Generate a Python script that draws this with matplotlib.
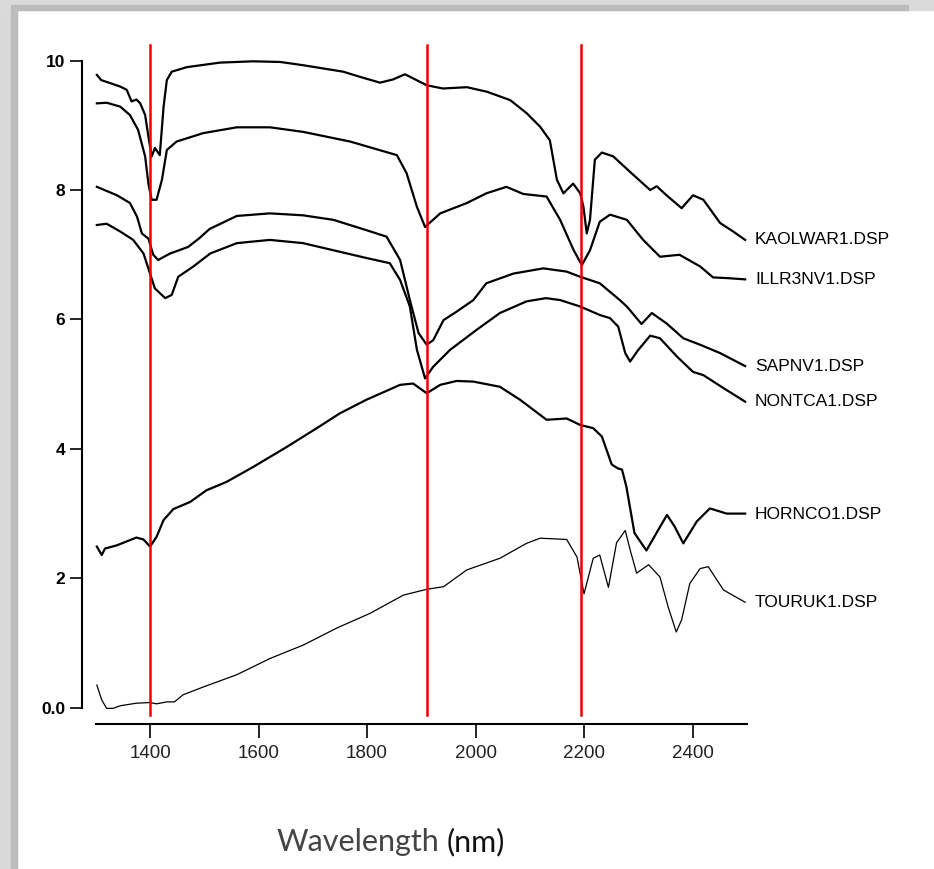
import matplotlib
matplotlib.use("Agg")
import matplotlib.pyplot as plt
from matplotlib.patches import Rectangle

# reflectance spectra (offset for display)
kaol_nm = [1302, 1310, 1345, 1357, 1366, 1375, 1382, 1391, 1397, 1403, 1409, 1418, 1425, 1431, 1440,
           1468, 1529, 1590, 1640, 1682, 1756, 1787, 1824, 1848, 1870, 1910, 1940, 1984, 2021, 2064,
           2094, 2119, 2137, 2150, 2162, 2180, 2193, 2199, 2205, 2211, 2220, 2233, 2254, 2285, 2322,
           2334, 2352, 2380, 2401, 2420, 2451, 2475, 2497]
kaol_r = [9.78, 9.70, 9.60, 9.55, 9.37, 9.40, 9.34, 9.16, 8.83, 8.52, 8.65, 8.54, 9.29, 9.70, 9.83,
          9.90, 9.97, 9.99, 9.98, 9.93, 9.83, 9.75, 9.66, 9.71, 9.79, 9.62, 9.57, 9.59, 9.52, 9.39,
          9.19, 8.98, 8.77, 8.16, 7.95, 8.10, 7.95, 7.74, 7.33, 7.54, 8.47, 8.58, 8.52, 8.28, 8.00,
          8.06, 7.92, 7.72, 7.92, 7.85, 7.49, 7.36, 7.23]

illr_nm = [1302, 1320, 1345, 1363, 1378, 1391, 1397, 1403, 1412, 1422, 1431, 1449, 1498, 1560, 1621,
           1682, 1769, 1855, 1873, 1892, 1907, 1935, 1984, 2020, 2057, 2088, 2131, 2156, 2181, 2196,
           2211, 2229, 2248, 2279, 2309, 2340, 2376, 2414, 2438, 2463, 2497]
illr_r = [9.34, 9.35, 9.29, 9.16, 8.93, 8.52, 8.10, 7.85, 7.85, 8.16, 8.62, 8.75, 8.88, 8.97, 8.97,
          8.90, 8.75, 8.54, 8.26, 7.74, 7.43, 7.64, 7.80, 7.95, 8.05, 7.94, 7.90, 7.54, 7.07, 6.84,
          7.07, 7.51, 7.62, 7.54, 7.23, 6.97, 7.00, 6.82, 6.65, 6.64, 6.62]

sapn_nm = [1302, 1339, 1363, 1376, 1385, 1397, 1406, 1415, 1437, 1470, 1490, 1510, 1540, 1560, 1621,
           1682, 1738, 1799, 1836, 1861, 1879, 1895, 1910, 1922, 1941, 1965, 1996, 2020, 2070, 2125,
           2168, 2193, 2229, 2266, 2279, 2306, 2325, 2352, 2383, 2414, 2451, 2497]
sapn_r = [8.05, 7.92, 7.80, 7.59, 7.33, 7.25, 7.00, 6.92, 7.02, 7.12, 7.25, 7.40, 7.52, 7.60, 7.64,
          7.61, 7.54, 7.38, 7.28, 6.92, 6.30, 5.79, 5.61, 5.68, 5.99, 6.12, 6.30, 6.56, 6.71, 6.79,
          6.74, 6.66, 6.56, 6.30, 6.20, 5.93, 6.10, 5.94, 5.71, 5.61, 5.48, 5.28]

nont_nm = [1302, 1320, 1345, 1369, 1388, 1400, 1409, 1428, 1440, 1452, 1480, 1511, 1560, 1621, 1682,
           1738, 1799, 1842, 1861, 1879, 1892, 1907, 1922, 1953, 2002, 2045, 2094, 2130, 2156, 2193,
           2229, 2248, 2263, 2276, 2285, 2300, 2322, 2340, 2371, 2401, 2420, 2457, 2497]
nont_r = [7.46, 7.48, 7.36, 7.23, 7.02, 6.71, 6.48, 6.33, 6.38, 6.66, 6.82, 7.02, 7.18, 7.23, 7.18,
          7.07, 6.95, 6.87, 6.61, 6.20, 5.53, 5.09, 5.27, 5.53, 5.84, 6.10, 6.28, 6.33, 6.30, 6.20,
          6.07, 6.02, 5.89, 5.48, 5.35, 5.53, 5.75, 5.71, 5.43, 5.19, 5.14, 4.94, 4.73]

horn_nm = [1302, 1311, 1317, 1339, 1375, 1388, 1400, 1412, 1425, 1443, 1474, 1504, 1541, 1590, 1652,
           1713, 1750, 1799, 1861, 1885, 1910, 1935, 1965, 1996, 2045, 2082, 2131, 2168, 2193, 2217,
           2233, 2251, 2262, 2270, 2278, 2293, 2315, 2337, 2353, 2367, 2383, 2408, 2432, 2463, 2497]
horn_r = [2.49, 2.36, 2.46, 2.51, 2.63, 2.60, 2.49, 2.64, 2.90, 3.07, 3.18, 3.36, 3.49, 3.72, 4.03,
          4.35, 4.55, 4.76, 4.99, 5.01, 4.86, 4.99, 5.05, 5.04, 4.96, 4.76, 4.45, 4.47, 4.37, 4.32,
          4.19, 3.76, 3.70, 3.68, 3.42, 2.70, 2.43, 2.75, 2.98, 2.80, 2.54, 2.88, 3.08, 3.00, 3.00]

tour_nm = [1302, 1311, 1320, 1332, 1345, 1375, 1400, 1412, 1431, 1445, 1461, 1498, 1560, 1621, 1683,
           1744, 1806, 1867, 1910, 1941, 1984, 2045, 2094, 2119, 2168, 2187, 2200, 2217, 2229, 2245,
           2260, 2276, 2285, 2297, 2319, 2340, 2355, 2370, 2380, 2395, 2414, 2429, 2457, 2497]
tour_r = [0.35, 0.12, -0.01, -0.01, 0.03, 0.07, 0.08, 0.06, 0.09, 0.09, 0.20, 0.32, 0.51, 0.76, 0.97,
          1.23, 1.46, 1.74, 1.83, 1.87, 2.13, 2.31, 2.54, 2.62, 2.60, 2.33, 1.76, 2.31, 2.36, 1.86,
          2.55, 2.74, 2.44, 2.08, 2.21, 2.02, 1.56, 1.17, 1.36, 1.92, 2.15, 2.18, 1.82, 1.63]

names = ["KAOLWAR1.DSP", "ILLR3NV1.DSP", "SAPNV1.DSP", "NONTCA1.DSP", "HORNCO1.DSP", "TOURUK1.DSP"]
label_y = [7.23, 6.62, 5.27, 4.73, 2.98, 1.62]
marker_nm = [1400, 1910, 2195]
x_ticks = [1400, 1600, 1800, 2000, 2200, 2400]
y_ticks = [0, 2, 4, 6, 8, 10]
y_ticklabels = ["0.0", "2", "4", "6", "8", "10"]

W, H = 934, 869
fig = plt.figure(figsize=(W / 100, H / 100), dpi=100)

# grey shadow at the left and top edge of the frame
fig.patches.append(Rectangle((0, 0), 17 / W, 1, transform=fig.transFigure, color="#d9d9d9", zorder=0))
fig.patches.append(Rectangle((11 / W, 0), 6 / W, 1 - 10 / H, transform=fig.transFigure, color="#bdbdbd", zorder=0))
fig.patches.append(Rectangle((0, 1 - 10 / H), 1, 10 / H, transform=fig.transFigure, color="#dadada", zorder=0))
fig.patches.append(Rectangle((11 / W, 1 - 10 / H), 0.96, 5 / H, transform=fig.transFigure, color="#bcbcbc", zorder=0))

# axes placed so that 1400 nm -> 150 px, 0.5425 px/nm; y: 0 -> 707.7 px, 64.7 px/unit
ax = fig.add_axes([40 / W, 1 - 740 / H, 720 / W, 710 / H])
ax.set_xlim(1197.2, 2524.4)
ax.set_ylim(-0.499, 10.474)
ax.patch.set_alpha(0)

series = [(kaol_nm, kaol_r), (illr_nm, illr_r), (sapn_nm, sapn_r),
          (nont_nm, nont_r), (horn_nm, horn_r), (tour_nm, tour_r)]
for i, (xs, ys) in enumerate(series):
    lw = 0.9 if i == 5 else 1.6
    ax.plot(xs, ys, color="black", lw=lw, solid_joinstyle="round", zorder=3)

for xm in marker_nm:
    ax.plot([xm, xm], [-0.12, 10.24], color="#ee0000", lw=1.8, zorder=4, clip_on=False)

for name, yl in zip(names, label_y):
    ax.text(2515, yl, name, ha="left", va="center", fontsize=12.5,
            family="Liberation Sans", color="black", clip_on=False)

for s in ["top", "right"]:
    ax.spines[s].set_visible(False)
ax.spines["left"].set_position(("data", 1274.7))
ax.spines["left"].set_bounds(0, 10)
ax.spines["bottom"].set_position(("data", -0.257))
ax.spines["bottom"].set_bounds(1300, 2500)
ax.spines["left"].set_linewidth(1.5)
ax.spines["bottom"].set_linewidth(1.5)

ax.set_xticks(x_ticks)
ax.set_xticklabels([str(t) for t in x_ticks], family="Liberation Sans", fontsize=13.5, color="#222222")
ax.set_yticks(y_ticks)
ax.set_yticklabels(y_ticklabels, family="Liberation Sans", fontsize=12.5, fontweight="bold")
ax.tick_params(axis="x", length=10, width=1.2, pad=5)
ax.tick_params(axis="y", length=8.5, width=1.2, pad=3.5)

fig.text(277 / W, 1 - 842 / H, "Wavelength", fontsize=22, family="Lato",
         color="#444444", ha="left", va="center")
fig.text(447 / W, 1 - 842 / H, "(nm)", fontsize=22, family="Lato", color="#111111",
         ha="left", va="center")

fig.savefig("out.png", dpi=100)
